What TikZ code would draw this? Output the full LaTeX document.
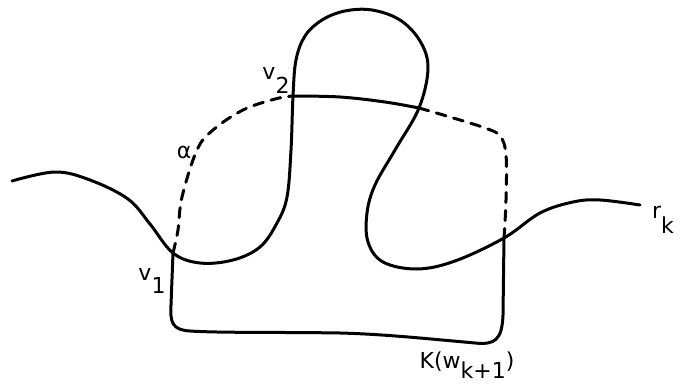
\documentclass[tikz,border=0pt]{standalone}
\usepackage{fontspec}
\setmainfont{DejaVu Sans}
\begin{document}
\begin{tikzpicture}[x=1pt,y=-1pt,
  curve/.style={line width=3pt, line cap=round, line join=round},
  dashcurve/.style={curve, dash pattern=on 10pt off 8pt},
  lbl/.style={font=\fontsize{22}{24}\selectfont, inner sep=0pt}]
\useasboundingbox (0,0) rectangle (680,385);
\coordinate (rstart) at (12,181);
\coordinate (v1) at (173,253);
\coordinate (v2) at (293,96);
\coordinate (x1) at (419,108);
\coordinate (x2) at (504,238);
\coordinate (rend) at (640,205);
% the curve r_k
\draw[curve] plot[smooth, tension=0.6] coordinates {(rstart) (55,172) (90,180) (128,199) (150,224) (v1) (200,263) (233,260) (260,247) (277,223) (287,197) (291,150) (v2) (296,60) (305,36) (322,20) (345,11) (372,10) (400,20) (420,41) (428,68) (x1) (395,150) (375,185) (367,213) (368,242) (383,262) (417,269) (455,261) (x2) (540,213) (573,202) (600,200) (rend)};
% solid part of K(w_{k+1})
\draw[curve] plot[smooth, tension=0.6] coordinates {(v2) (340,97) (385,102) (x1)};
\draw[curve] (x2) -- (503,315) .. controls (502,340) and (495,345) .. (475,343)
  .. controls (420,338) and (380,334) .. (340,333)
  .. controls (280,332) and (220,333) .. (190,331)
  .. controls (172,330) and (170,322) .. (171,305) -- (v1);
% dashed parts
\draw[dashcurve] plot[smooth, tension=0.6] coordinates {(x1) (450,117) (485,128) (500,136) (506,155) (506,200) (x2)};
\draw[dashcurve] plot[smooth, tension=0.6] coordinates {(v1) (178,230) (182,197) (197,150) (213,130) (243,110) (275,99) (v2)};
% labels
\node[lbl] (lv2) at (276,80) {v\raisebox{-14pt}{2}};
\node[lbl] (lv1) at (152,281) {v\raisebox{-13pt}{1}};
\node[lbl] (lal) at (184,152) {α};
\node[lbl] (lrk) at (663,220) {r\raisebox{-15pt}{k}};
\node[lbl] (lK) at (467,365) {K(w\raisebox{-10pt}{k+1})};
\end{tikzpicture}
\end{document}
